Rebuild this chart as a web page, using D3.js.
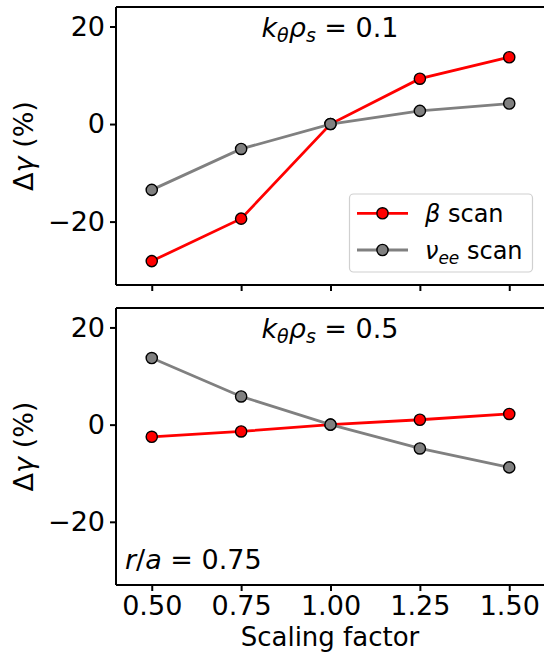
<!DOCTYPE html>
<html>
<head>
<meta charset="utf-8">
<script src="https://cdn.jsdelivr.net/npm/d3@7/dist/d3.min.js"></script>
<style>
  body { margin: 0; background: #fff; }
  svg text { font-family: "DejaVu Sans", sans-serif; fill: #000; }
</style>
</head>
<body>
<div id="chart"></div>
<script>
// scaling factors on the x axis
var scaling = [0.5, 0.75, 1.0, 1.25, 1.5];
var xTicks = [0.5, 0.75, 1.0, 1.25, 1.5];
var yTicks = [-20, 0, 20];

// k_theta rho_s = 0.1
var betaLow = [-28.1, -19.4, 0, 9.3, 13.7];
var nuLow = [-13.5, -5.1, 0, 2.7, 4.2];
// k_theta rho_s = 0.5
var betaHigh = [-2.5, -1.4, 0, 1.0, 2.2];
var nuHigh = [13.7, 5.8, 0, -4.9, -8.8];

var panelTitles = ["0.1", "0.5"];
var seriesNames = ["β", "ν"];
var seriesColors = ["#ff0000", "#808080"];

var W = 544, H = 659;
var svg = d3.select("#chart").append("svg")
    .attr("width", W).attr("height", H);

var x = d3.scaleLinear().domain([0.4, 1.6]).range([116, 545]);

var panels = [
    { top: 7, bottom: 285, series: [betaLow, nuLow], title: panelTitles[0] },
    { top: 308, bottom: 585, series: [betaHigh, nuHigh], title: panelTitles[1] }
];

var fmtY = function(d) { return d < 0 ? "\u2212" + Math.abs(d) : "" + d; };

panels.forEach(function(p, i) {
    var y = d3.scaleLinear().domain([-33, 24]).range([p.bottom, p.top]);
    var g = svg.append("g");

    // lines + markers
    p.series.forEach(function(vals, s) {
        var pts = scaling.map(function(d, k) { return [d, vals[k]]; });
        g.append("path")
            .attr("d", d3.line().x(function(d) { return x(d[0]); }).y(function(d) { return y(d[1]); })(pts))
            .attr("fill", "none")
            .attr("stroke", seriesColors[s])
            .attr("stroke-width", 2.8);
        g.selectAll(".m" + s).data(pts).enter().append("circle")
            .attr("cx", function(d) { return x(d[0]); })
            .attr("cy", function(d) { return y(d[1]); })
            .attr("r", 5.6)
            .attr("fill", seriesColors[s])
            .attr("stroke", "#000")
            .attr("stroke-width", 1.4);
    });

    // y axis
    var ya = g.append("g").attr("transform", "translate(116,0)")
        .call(d3.axisLeft(y).tickValues(yTicks).tickFormat(fmtY).tickSize(6).tickPadding(5));
    // x axis
    var xa = g.append("g").attr("transform", "translate(0," + p.bottom + ")")
        .call(d3.axisBottom(x).tickValues(xTicks).tickFormat(i === 1 ? d3.format(".2f") : "").tickSize(6).tickPadding(5));
    [ya, xa].forEach(function(a) {
        a.select(".domain").remove();
        a.selectAll(".tick line").attr("stroke", "#000").attr("stroke-width", 2);
        a.selectAll(".tick text").style("font-size", "27px").attr("fill", "#000");
    });

    // frame (top, bottom, left spines)
    g.append("line").attr("x1", 116).attr("x2", 545).attr("y1", p.top).attr("y2", p.top)
        .attr("stroke", "#000").attr("stroke-width", 2);
    g.append("line").attr("x1", 116).attr("x2", 545).attr("y1", p.bottom).attr("y2", p.bottom)
        .attr("stroke", "#000").attr("stroke-width", 2);
    g.append("line").attr("x1", 116).attr("x2", 116).attr("y1", p.top).attr("y2", p.bottom)
        .attr("stroke", "#000").attr("stroke-width", 2);

    // panel title k_theta rho_s = value
    var t = g.append("text").attr("x", 330).attr("y", p.top + 30)
        .attr("text-anchor", "middle").style("font-size", "27px");
    t.append("tspan").style("font-style", "italic").text("k");
    t.append("tspan").style("font-style", "italic").style("font-size", "19px").attr("dy", 5).text("θ");
    t.append("tspan").style("font-style", "italic").attr("dy", -5).text("ρ");
    t.append("tspan").style("font-style", "italic").style("font-size", "19px").attr("dy", 5).text("s");
    t.append("tspan").attr("dy", -5).text(" = " + p.title);

    // y label
    var yl = g.append("text")
        .attr("transform", "translate(33," + ((p.top + p.bottom) / 2) + ") rotate(-90)")
        .attr("text-anchor", "middle").style("font-size", "27px");
    yl.append("tspan").text("Δ");
    yl.append("tspan").style("font-style", "italic").text("γ");
    yl.append("tspan").text(" (%)");
});

// r/a annotation
var ra = svg.append("text").attr("x", 125).attr("y", 569).style("font-size", "27px");
ra.append("tspan").style("font-style", "italic").text("r");
ra.append("tspan").text("/");
ra.append("tspan").style("font-style", "italic").text("a");
ra.append("tspan").text(" = 0.75");

// x label
svg.append("text").attr("x", 330).attr("y", 646).attr("text-anchor", "middle")
    .style("font-size", "26px").text("Scaling factor");

// legend
var lg = svg.append("g");
lg.append("rect").attr("x", 349.5).attr("y", 194).attr("width", 183).attr("height", 78)
    .attr("rx", 4).attr("fill", "#fff").attr("fill-opacity", 0.8)
    .attr("stroke", "#d0d0d0").attr("stroke-width", 1.2);
[213.3, 250].forEach(function(ly, s) {
    lg.append("line").attr("x1", 357).attr("x2", 408).attr("y1", ly).attr("y2", ly)
        .attr("stroke", seriesColors[s]).attr("stroke-width", 2.8);
    lg.append("circle").attr("cx", 382.5).attr("cy", ly).attr("r", 5.6)
        .attr("fill", seriesColors[s]).attr("stroke", "#000").attr("stroke-width", 1.4);
    var lt = lg.append("text").attr("x", 425).attr("y", ly + 8.5).style("font-size", "24px");
    lt.append("tspan").style("font-style", "italic").text(seriesNames[s]);
    if (s === 1) {
        lt.append("tspan").style("font-style", "italic").style("font-size", "17px").attr("dy", 5).text("ee");
        lt.append("tspan").attr("dy", -5).text(" scan");
    } else {
        lt.append("tspan").text(" scan");
    }
});
</script>
</body>
</html>
